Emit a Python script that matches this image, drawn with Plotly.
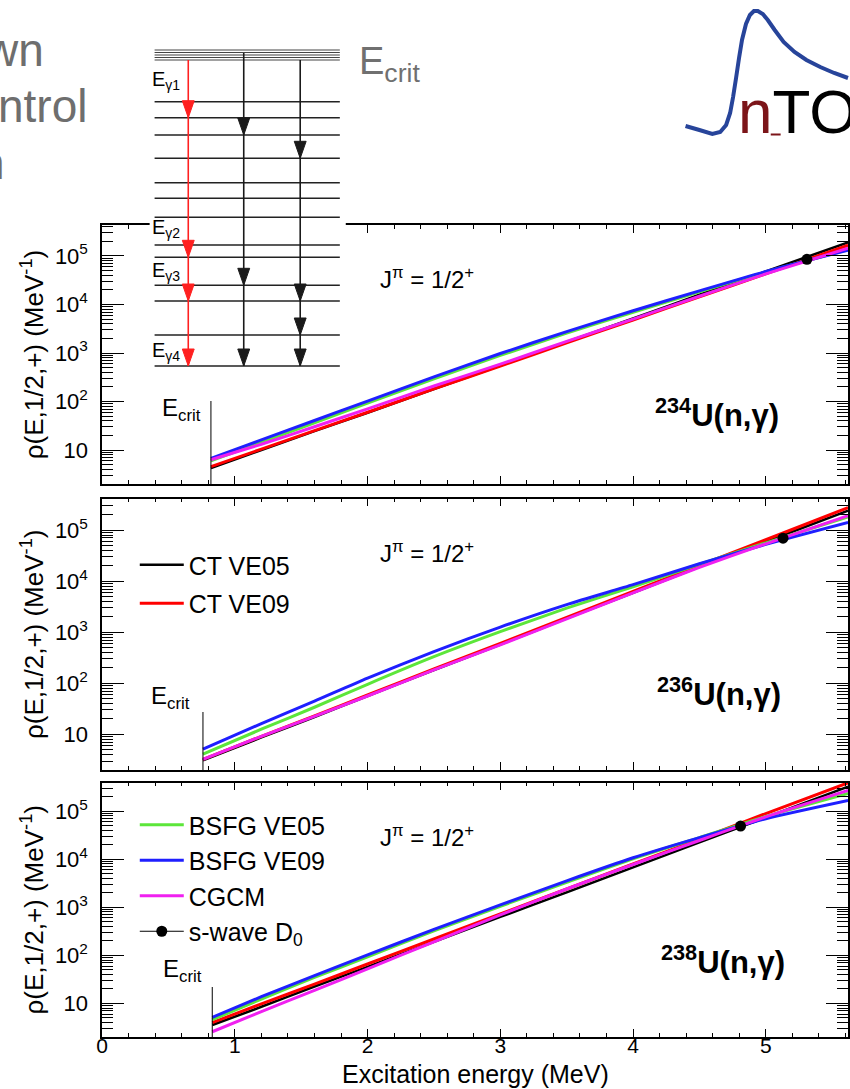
import plotly.graph_objects as go

W, H = 850, 1089
FONT = "Liberation Sans, Arial, sans-serif"

# ---------------- data (log10 of rho) ----------------
E_234 = [0.82, 1.2, 1.6, 2.0, 2.5, 3.0, 3.5, 4.0, 4.5, 5.0, 5.62]
ct05_234 = [0.63, 1.00, 1.39, 1.77, 2.26, 2.74, 3.23, 3.71, 4.20, 4.68, 5.28]
ct09_234 = [0.66, 1.02, 1.40, 1.78, 2.26, 2.73, 3.21, 3.68, 4.16, 4.63, 5.22]
bsfg05_234 = [0.78, 1.16, 1.56, 1.97, 2.47, 2.95, 3.41, 3.84, 4.26, 4.67, 5.13]
bsfg09_234 = [0.83, 1.21, 1.61, 2.01, 2.51, 2.99, 3.44, 3.87, 4.28, 4.68, 5.12]
cgcm_234 = [0.80, 1.12, 1.48, 1.85, 2.32, 2.77, 3.24, 3.70, 4.17, 4.63, 5.16]
d0_234 = (5.31, 4.93)

E_236 = [0.76, 1.2, 1.6, 2.0, 2.5, 3.0, 3.5, 4.0, 4.5, 5.0, 5.62]
ct05_236 = [0.49, 0.94, 1.34, 1.75, 2.26, 2.76, 3.27, 3.77, 4.28, 4.77, 5.38]
ct09_236 = [0.51, 0.96, 1.36, 1.77, 2.28, 2.78, 3.29, 3.80, 4.31, 4.81, 5.44]
bsfg05_236 = [0.61, 1.10, 1.53, 1.98, 2.52, 3.01, 3.47, 3.89, 4.33, 4.75, 5.26]
bsfg09_236 = [0.71, 1.21, 1.65, 2.10, 2.62, 3.10, 3.54, 3.93, 4.34, 4.72, 5.15]
cgcm_236 = [0.51, 0.96, 1.35, 1.75, 2.26, 2.75, 3.26, 3.77, 4.27, 4.73, 5.28]
d0_236 = (5.13, 4.84)

E_238 = [0.83, 1.2, 1.6, 2.0, 2.5, 3.0, 3.5, 4.0, 4.5, 5.0, 5.62]
ct05_238 = [0.55, 0.93, 1.35, 1.76, 2.28, 2.80, 3.31, 3.83, 4.35, 4.87, 5.51]
ct09_238 = [0.60, 0.99, 1.40, 1.82, 2.34, 2.86, 3.38, 3.90, 4.42, 4.95, 5.59]
bsfg05_238 = [0.66, 1.09, 1.54, 1.97, 2.51, 3.02, 3.52, 4.01, 4.45, 4.89, 5.37]
bsfg09_238 = [0.71, 1.14, 1.58, 2.01, 2.54, 3.05, 3.55, 4.03, 4.45, 4.84, 5.22]
cgcm_238 = [0.41, 0.83, 1.27, 1.72, 2.28, 2.84, 3.38, 3.89, 4.39, 4.88, 5.43]
d0_238 = (4.81, 4.69)

E_crit = [0.82, 0.76, 0.83]
nuclei = ["234", "236", "238"]
series_names = ["CT VE05", "CT VE09", "BSFG VE05", "BSFG VE09", "CGCM"]
series_colors = ["#000000", "#ff0000", "#5ce63a", "#1f1fff", "#f020f0"]
y_tickvals = [10, 100, 1e3, 1e4, 1e5]
y_ticktext = ["10", "10<sup>2</sup>", "10<sup>3</sup>", "10<sup>4</sup>", "10<sup>5</sup>"]

panels = [
    (E_234, [ct05_234, ct09_234, bsfg05_234, bsfg09_234, cgcm_234], d0_234),
    (E_236, [ct05_236, ct09_236, bsfg05_236, bsfg09_236, cgcm_236], d0_236),
    (E_238, [ct05_238, ct09_238, bsfg05_238, bsfg09_238, cgcm_238], d0_238),
]

# ---------------- layout geometry (pixels) ----------------
X_LEFT = 97
PX_PER_MEV = 134
x_range = [0, (W - X_LEFT) / PX_PER_MEV]
panel_px = [(225, 484), (498.5, 770), (782.5, 1037)]
y_ranges = [[0.301, 5.638], [0.301, 5.618], [0.301, 5.596]]


def PX(x, y):
    return x / W, 1 - y / H


fig = go.Figure()

for i, (E, curves, d0) in enumerate(panels):
    sfx = "" if i == 0 else str(i + 1)
    for j, (vals, nm, col) in enumerate(zip(curves, series_names, series_colors)):
        if j < 2:
            show = (i == 1)
            leg = "legend"
        else:
            show = (i == 2)
            leg = "legend2"
        fig.add_trace(go.Scatter(
            x=E, y=[10 ** v for v in vals], mode="lines", name=nm,
            line=dict(color=col, width=3 if j else 2.6, shape="spline", smoothing=0.6),
            xaxis="x" + sfx, yaxis="y" + sfx, showlegend=show, legend=leg,
            legendgroup=("g%d" % j) if j < 2 else None,
        ))
    fig.add_trace(go.Scatter(
        x=[d0[0]], y=[10 ** d0[1]], mode="lines+markers", name="s-wave D<sub>0</sub>",
        marker=dict(color="black", size=11), line=dict(color="black", width=1.2),
        xaxis="x" + sfx, yaxis="y" + sfx, showlegend=(i == 2), legend="legend2",
    ))

minor_y = [m * 10 ** k for k in range(0, 6) for m in range(2, 10)]

layout = dict(
    width=W, height=H, margin=dict(l=0, r=0, t=0, b=0),
    paper_bgcolor="white", plot_bgcolor="white",
    font=dict(family=FONT, color="black"),
    legend=dict(x=PX(130, 0)[0], y=PX(0, 542)[1], xanchor="left", yanchor="top",
                font=dict(size=25, family=FONT), bgcolor="rgba(0,0,0,0)",
                tracegroupgap=3, itemwidth=44),
    legend2=dict(x=PX(130, 0)[0], y=PX(0, 802)[1], xanchor="left", yanchor="top",
                 font=dict(size=25, family=FONT), bgcolor="rgba(0,0,0,0)",
                 tracegroupgap=0, itemwidth=44),
)

for i, (top, bot) in enumerate(panel_px):
    sfx = "" if i == 0 else str(i + 1)
    xdom = [X_LEFT / W, 1.0]
    ydom = [1 - bot / H, 1 - top / H]
    layout["xaxis" + sfx] = dict(
        domain=xdom, range=x_range, anchor="y" + sfx, showline=True, linecolor="black",
        linewidth=1.5, mirror="ticks", ticks="inside", ticklen=8, tickwidth=1, tickcolor="black",
        tick0=0, dtick=1, showgrid=False, zeroline=False,
        showticklabels=(i == 2), tickfont=dict(size=21, family=FONT, color="black"),
        ticklabelstandoff=-11,
        minor=dict(dtick=0.2, tick0=0, ticks="inside", ticklen=4, tickcolor="black", tickwidth=1),
    )
    layout["yaxis" + sfx] = dict(
        domain=ydom, type="log", range=y_ranges[i], anchor="x" + sfx, showline=True,
        linecolor="black", linewidth=1.5, mirror="ticks", ticks="inside", ticklen=22,
        tickwidth=1, tickcolor="black", tickvals=y_tickvals, ticktext=y_ticktext,
        tickfont=dict(size=22, family=FONT, color="black"), showgrid=False, zeroline=False,
        ticklabelstandoff=8,
        minor=dict(tickmode="array", tickvals=minor_y, ticks="inside", ticklen=11,
                   tickcolor="black", tickwidth=1),
    )

fig.update_layout(**layout)

annotations = []
shapes = []


def ann(text, x, y, size, color="black", xanchor="left", yanchor="middle", **kw):
    px_, py_ = PX(x, y)
    annotations.append(dict(text=text, x=px_, y=py_, xref="paper", yref="paper",
                            showarrow=False, xanchor=xanchor, yanchor=yanchor,
                            font=dict(size=size, color=color, family=FONT), **kw))


# panel texts
jpi_y = [278, 552, 836]
nuc_pos = [(653, 413), (655, 692), (659, 960)]
ecrit_lbl = [(155, 409), (144, 697), (156, 970)]
ecrit_top = [401, 712, 987]
for i in range(3):
    top, bot = panel_px[i]
    ann("J<sup>π</sup> = 1/2<sup>+</sup>", 376, jpi_y[i], 24)
    ann("<b><sup>%s</sup>U(n,γ)</b>" % nuclei[i], nuc_pos[i][0], nuc_pos[i][1], 31)
    ann("E<sub>crit</sub>", ecrit_lbl[i][0], ecrit_lbl[i][1], 24)
    ann("ρ(E,1/2,+) (MeV<sup>-1</sup>)", 27, (top + bot) / 2, 26, xanchor="center",
        textangle=-90)
    sfx = "" if i == 0 else str(i + 1)
    shapes.append(dict(type="line", xref="x" + sfx, yref="y%s domain" % sfx,
                       x0=E_crit[i], x1=E_crit[i], y0=0, y1=(bot - ecrit_top[i]) / (bot - top),
                       line=dict(color="black", width=1)))

ann("Excitation energy (MeV)", 474, 1090, 25, xanchor="center", yanchor="bottom")

# slide text fragments (left edge)
ann("wn", 40, 50, 46, color="#6e6e6e", xanchor="right")
ann("ntrol", 84, 106, 46, color="#6e6e6e", xanchor="right")
ann("n", 1, 163, 46, color="#6e6e6e", xanchor="right")

# ---------------- level-scheme inset ----------------
x0b, y0b = PX(145, 45)
x1b, y1b = PX(343, 372)
shapes.append(dict(type="rect", xref="paper", yref="paper", x0=x0b, x1=x1b, y0=y1b, y1=y0b,
                   fillcolor="white", line=dict(width=0), layer="above"))
for yy in [50, 52.5, 55, 57.5, 60]:
    a, b = PX(150, yy)
    c, d = PX(337, yy)
    shapes.append(dict(type="line", xref="paper", yref="paper", x0=a, y0=b, x1=c, y1=d,
                       line=dict(color="#444444", width=1.2), layer="above"))
for yy in [101.7, 117.7, 135, 158.3, 182.7, 198.3, 217.3, 245, 257.3, 285.3, 301, 335, 366]:
    a, b = PX(150, yy)
    c, d = PX(337, yy)
    shapes.append(dict(type="line", xref="paper", yref="paper", x0=a, y0=b, x1=c, y1=d,
                       line=dict(color="#222222", width=1.6), layer="above"))
arrows = [(184, 60, [117.7, 257.3, 301, 366], "#ff2020"),
          (240, 53, [135, 285.3, 366], "#1a1a1a"),
          (297, 60, [158.3, 301, 335, 366], "#1a1a1a")]
for ax_, ay0, tips, col in arrows:
    a, b = PX(ax_, ay0)
    c, d = PX(ax_, 366)
    shapes.append(dict(type="line", xref="paper", yref="paper", x0=a, y0=b, x1=c, y1=d,
                       line=dict(color=col, width=1.6), layer="above"))
    for t in tips:
        p1 = PX(ax_, t)
        p2 = PX(ax_ - 6, t - 17)
        p3 = PX(ax_ + 6, t - 17)
        path = "M %.5f %.5f L %.5f %.5f L %.5f %.5f Z" % (p1 + p2 + p3)
        shapes.append(dict(type="path", xref="paper", yref="paper", path=path,
                           fillcolor=col, line=dict(color=col, width=1), layer="above"))
for k, yy in enumerate([80, 228, 271, 351]):
    ann("E<sub>γ%d</sub>" % (k + 1), 145, yy, 20)
ann("E<sub>crit</sub>", 354, 64, 38, color="#707070")

# ---------------- n_TOF logo ----------------
logo_pts = [(686, 126), (700, 130), (713, 134), (721, 132), (727, 125), (731, 113), (734, 97),
            (737, 78), (740, 58), (743, 40), (747, 24), (751, 15), (755, 11), (759, 11),
            (764, 14), (769, 20), (776, 30), (785, 42), (796, 52), (808, 60), (822, 67),
            (836, 73), (850, 78)]
path = ""
for k, (lx, ly) in enumerate(logo_pts):
    qx, qy = PX(lx, ly)
    path += ("M" if k == 0 else " L") + " %.5f %.5f" % (qx, qy)
shapes.append(dict(type="path", xref="paper", yref="paper", path=path,
                   line=dict(color="#27449a", width=4), layer="above"))
ann("<span style='color:#7c1519'>n</span>TOF", 737, 112, 62, xanchor="left")
a, b = PX(772, 134.5)
c, d = PX(782, 134.5)
shapes.append(dict(type="line", xref="paper", yref="paper", x0=a, y0=b, x1=c, y1=d,
                   line=dict(color="#7c1519", width=2), layer="above"))

fig.update_layout(annotations=annotations, shapes=shapes)
fig.write_html("out.html")
